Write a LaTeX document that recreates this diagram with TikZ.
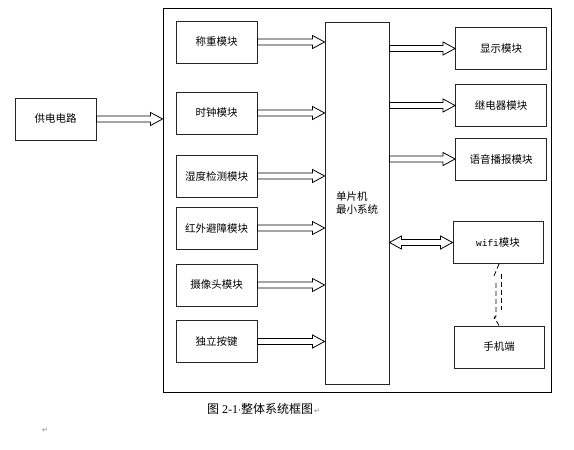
\documentclass[tikz,border=0pt]{standalone}
\usepackage{fontspec}
\setmainfont{Noto Sans CJK SC}
\newfontfamily\latinserif{Liberation Serif}
\newfontfamily\latinmono{Liberation Mono}
\newfontfamily\symfont{DejaVu Sans}
\usetikzlibrary{calc}
\tikzset{
  box/.style={draw=black!85, line width=0.9pt, minimum width=81pt, minimum height=42pt, inner sep=0pt, font=\fontsize{10.5}{12}\selectfont},
  rbox/.style={box, minimum width=91pt},
  arrowline/.style={draw=black, line width=0.8pt, fill=white, line join=miter},
  bolt/.style={draw=black, line width=0.8pt, dash pattern=on 5pt off 3pt},
}
\newcommand\blockarrow[2]{%
  \draw[arrowline] let \p1=(#1), \p2=(#2) in
    (\x1,\y1+3pt) -- (\x2-12pt,\y1+3pt) -- (\x2-12pt,\y1+6.5pt) -- (\x2,\y1)
    -- (\x2-12pt,\y1-6.5pt) -- (\x2-12pt,\y1-3pt) -- (\x1,\y1-3pt) -- cycle;}
\newcommand\twowayarrow[2]{%
  \draw[arrowline] let \p1=(#1), \p2=(#2) in
    (\x1,\y1) -- (\x1+12pt,\y1+6.5pt) -- (\x1+12pt,\y1+3pt) -- (\x2-12pt,\y1+3pt) -- (\x2-12pt,\y1+6.5pt) -- (\x2,\y1)
    -- (\x2-12pt,\y1-6.5pt) -- (\x2-12pt,\y1-3pt) -- (\x1+12pt,\y1-3pt) -- (\x1+12pt,\y1-6.5pt) -- cycle;}
\begin{document}
\begin{tikzpicture}[x=1pt,y=-1pt]
\useasboundingbox[fill=white] (0,0) rectangle (574,450);
% outer system frame
\node[draw=black, line width=0.9pt, minimum width=388pt, minimum height=384pt, inner sep=0pt] (sys) at (357,200) {};
% power
\node[box] (power) at (55.5,119) {供电电路};
% left modules
\node[box] (weigh) at (216.5,42) {称重模块};
\node[box] (clock) at (216.5,113) {时钟模块};
\node[box] (humid) at (216.5,176) {湿度检测模块};
\node[box] (ir) at (216.5,228) {红外避障模块};
\node[box] (cam) at (216.5,285) {摄像头模块};
\node[box] (key) at (216.5,341.5) {独立按键};
% MCU
\node[draw=black!85, line width=0.9pt, minimum width=64pt, minimum height=362pt, inner sep=0pt] (mcu) at (357,203) {};
\node[align=left, font=\fontsize{10.5}{13}\selectfont, inner sep=0pt] (mcutext) at (mcu.center) {单片机\\最小系统};
% right modules
\node[rbox] (disp) at (501,48.5) {显示模块};
\node[rbox] (relay) at (501,105.5) {继电器模块};
\node[rbox] (voice) at (501,159) {语音播报模块};
\node[rbox, minimum width=90pt] (wifi) at (498,242.5) {{\latinmono\fontsize{9.5}{12}\selectfont wifi}模块};
\node[rbox, minimum width=90pt] (phone) at (499,347) {手机端};
% arrows
\blockarrow{power.east}{sys.west |- power.east}
\foreach \m in {weigh,clock,humid,ir,cam,key}{
  \blockarrow{\m.east}{mcu.west |- \m.east}
}
\foreach \m in {disp,relay,voice}{
  \blockarrow{mcu.east |- \m.west}{\m.west}
}
\twowayarrow{mcu.east |- wifi.west}{wifi.west}
% wireless link (dashed bolt)
\draw[bolt] ($(wifi.south)+(1,0)$) -- ($(wifi.south)+(-4,12)$);
\draw[bolt] ($(wifi.south)+(3,10)$) -- ++(0,36);
\draw[bolt] ($(wifi.south)+(-2,19)$) -- ++(0,33) -- ++(-2,3);
\draw[bolt] (phone.north) -- ++(-5,-9);
% caption
\node[anchor=west, font=\fontsize{12}{14}\selectfont, inner sep=0pt] (cap) at (207,409)
  {图\hspace{3pt}{\latinserif 2-1}{\symfont\fontsize{9}{9}\selectfont ·}整体系统框图{\color{gray}\symfont\fontsize{7}{7}\selectfont\,↵}};
\node[font=\symfont\fontsize{7}{7}\selectfont, text=gray, inner sep=0pt] (pm) at (45,430) {↵};
\end{tikzpicture}
\end{document}
